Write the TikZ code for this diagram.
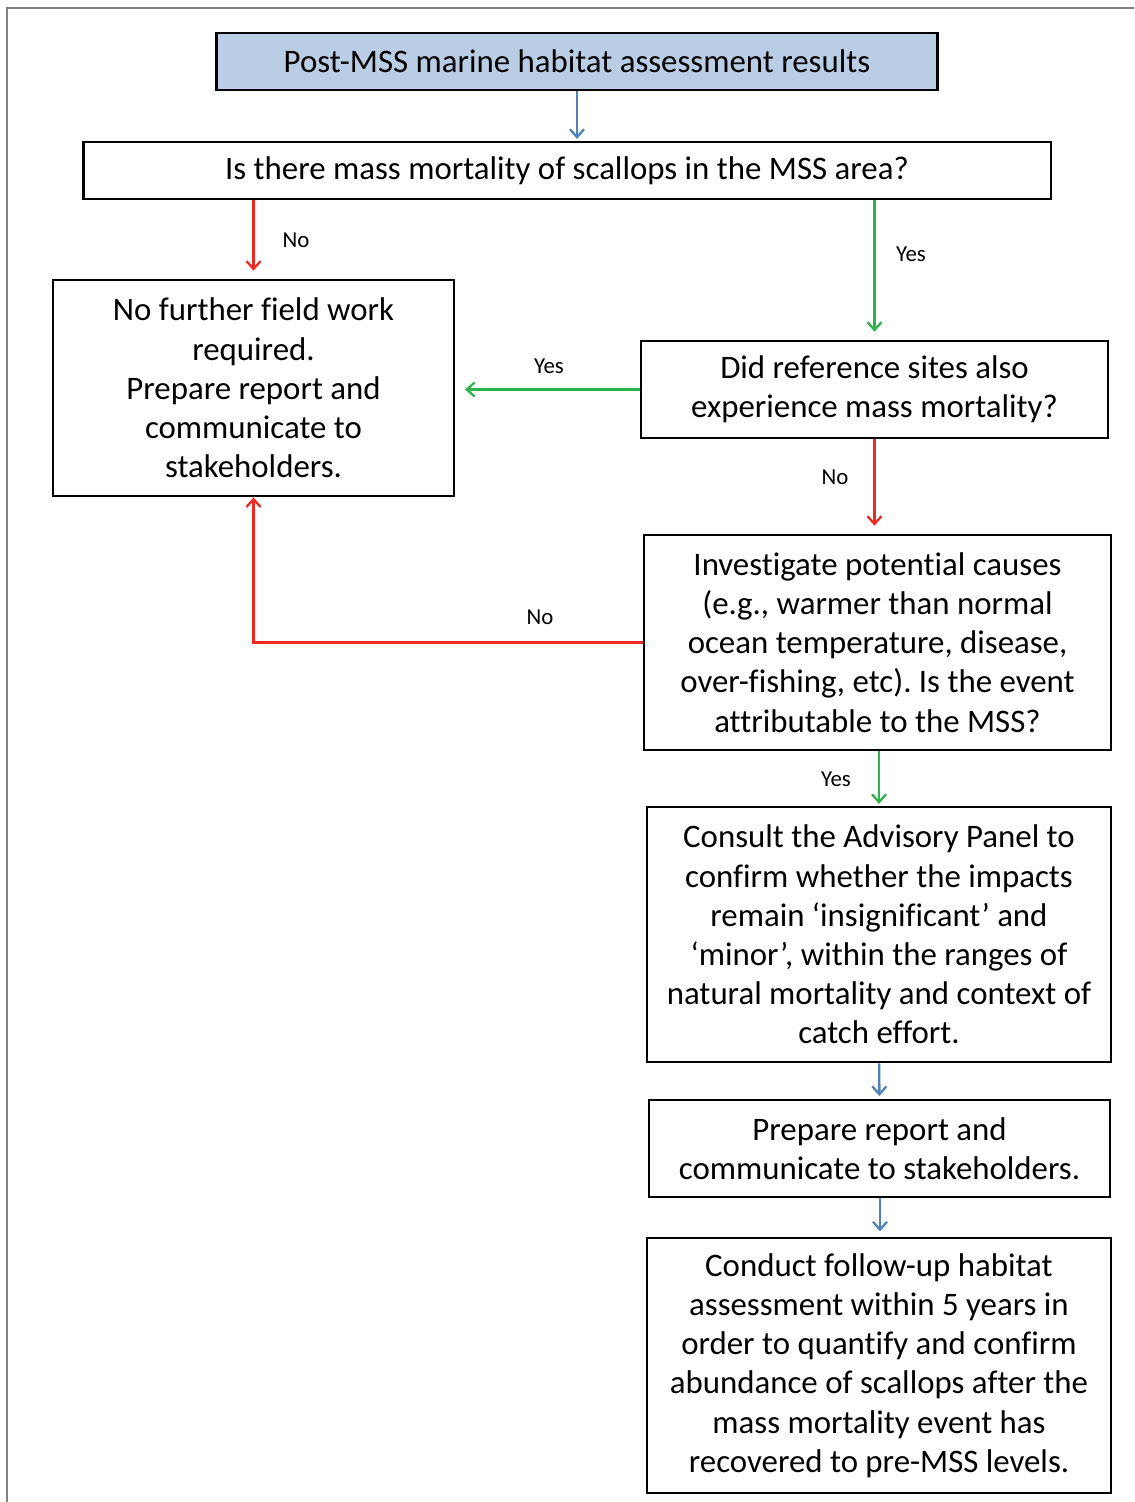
\documentclass[tikz,border=0pt]{standalone}
\usepackage{fontspec}
\setmainfont{Carlito}[Ligatures=NoCommon]
\usetikzlibrary{arrows.meta}
\frenchspacing

\definecolor{boxblue}{HTML}{B9CDE5}
\definecolor{linkblue}{HTML}{4F81BD}
\definecolor{linkred}{HTML}{EE2A24}
\definecolor{linkgreen}{HTML}{2DB34A}

\tikzset{
  box/.style={draw, line width=1.6pt, align=center, inner sep=0pt,
    font=\fontsize{18.7}{22.3}\selectfont},
  link/.style={->, line width=1.3pt, shorten >=4.5pt},
  answer/.style={font=\fontsize{13}{15}\selectfont}
}

\begin{document}
\begin{tikzpicture}[x=0.02cm, y=-0.02cm, >={Straight Barb[length=4.5pt, width=8pt]}]
\useasboundingbox (0,0) rectangle (1134,1502);
% page frame
\draw[gray, line width=1.2pt] (7,1502)--(7,8)--(1134,8);

% boxes
\node[box, fill=boxblue, minimum width=14.42cm, minimum height=1.14cm] (results) at (577,61.5)
  {Post-MSS marine habitat assessment results};
\node[box, minimum width=19.36cm, minimum height=1.14cm] (mortality) at (567,170.5)
  {Is there mass mortality of scallops in the MSS area?};
\node[box, minimum width=8.02cm, minimum height=4.32cm] (nowork) at (253.5,388)
  {No further field work\\required.\\Prepare report and\\communicate to\\stakeholders.};
\node[box, minimum width=9.34cm, minimum height=1.94cm] (reference) at (874.5,389.5)
  {Did reference sites also\\experience mass mortality?};
\node[box, minimum width=9.34cm, minimum height=4.30cm] (causes) at (877.5,642.5)
  {Investigate potential causes\\(e.g., warmer than normal\\ocean temperature, disease,\\over-fishing, etc). Is the event\\attributable to the MSS?};
\node[box, minimum width=9.28cm, minimum height=5.10cm] (panel) at (879,934.5)
  {Consult the Advisory Panel to\\confirm whether the impacts\\remain `insignificant' and\\`minor', within the ranges of\\natural mortality and context of\\catch effort.};
\node[box, minimum width=9.22cm, minimum height=1.94cm] (report) at (879.5,1148.5)
  {Prepare report and\\communicate to stakeholders.};
\node[box, minimum width=9.28cm, minimum height=5.10cm] (followup) at (879,1365.5)
  {Conduct follow-up habitat\\assessment within 5 years in\\order to quantify and confirm\\abundance of scallops after the\\mass mortality event has\\recovered to pre-MSS levels.};

% links
\draw[link, linkblue, shorten >=1pt] (results.south) -- (results.south |- mortality.north);
\draw[link, linkred] (mortality.south -| nowork) -- (nowork.north);
\draw[link, linkgreen] (mortality.south -| reference) -- (reference.north);
\draw[link, linkgreen, shorten >=5.5pt] (reference.west) -- (reference.west -| nowork.east);
\draw[link, linkred] (reference.south) -- (reference.south |- causes.north);
\draw[link, linkred, shorten >=0pt] (causes.west) -| (nowork.south);
\draw[link, linkgreen, shorten >=1pt] (causes.south -| panel) -- (panel.north);
\draw[link, linkblue, shorten >=1.5pt] (panel) -- (report);
\draw[link, linkblue, shorten >=3pt] (report.south -| 880,0) -- (followup.north -| 880,0);

% answers
\node[answer] (no1) at (296,240) {No};
\node[answer] (yes1) at (911,254) {Yes};
\node[answer] (yes2) at (549,366) {Yes};
\node[answer] (no2) at (835,477) {No};
\node[answer] (no3) at (540,617) {No};
\node[answer] (yes3) at (836,779) {Yes};
\end{tikzpicture}
\end{document}
